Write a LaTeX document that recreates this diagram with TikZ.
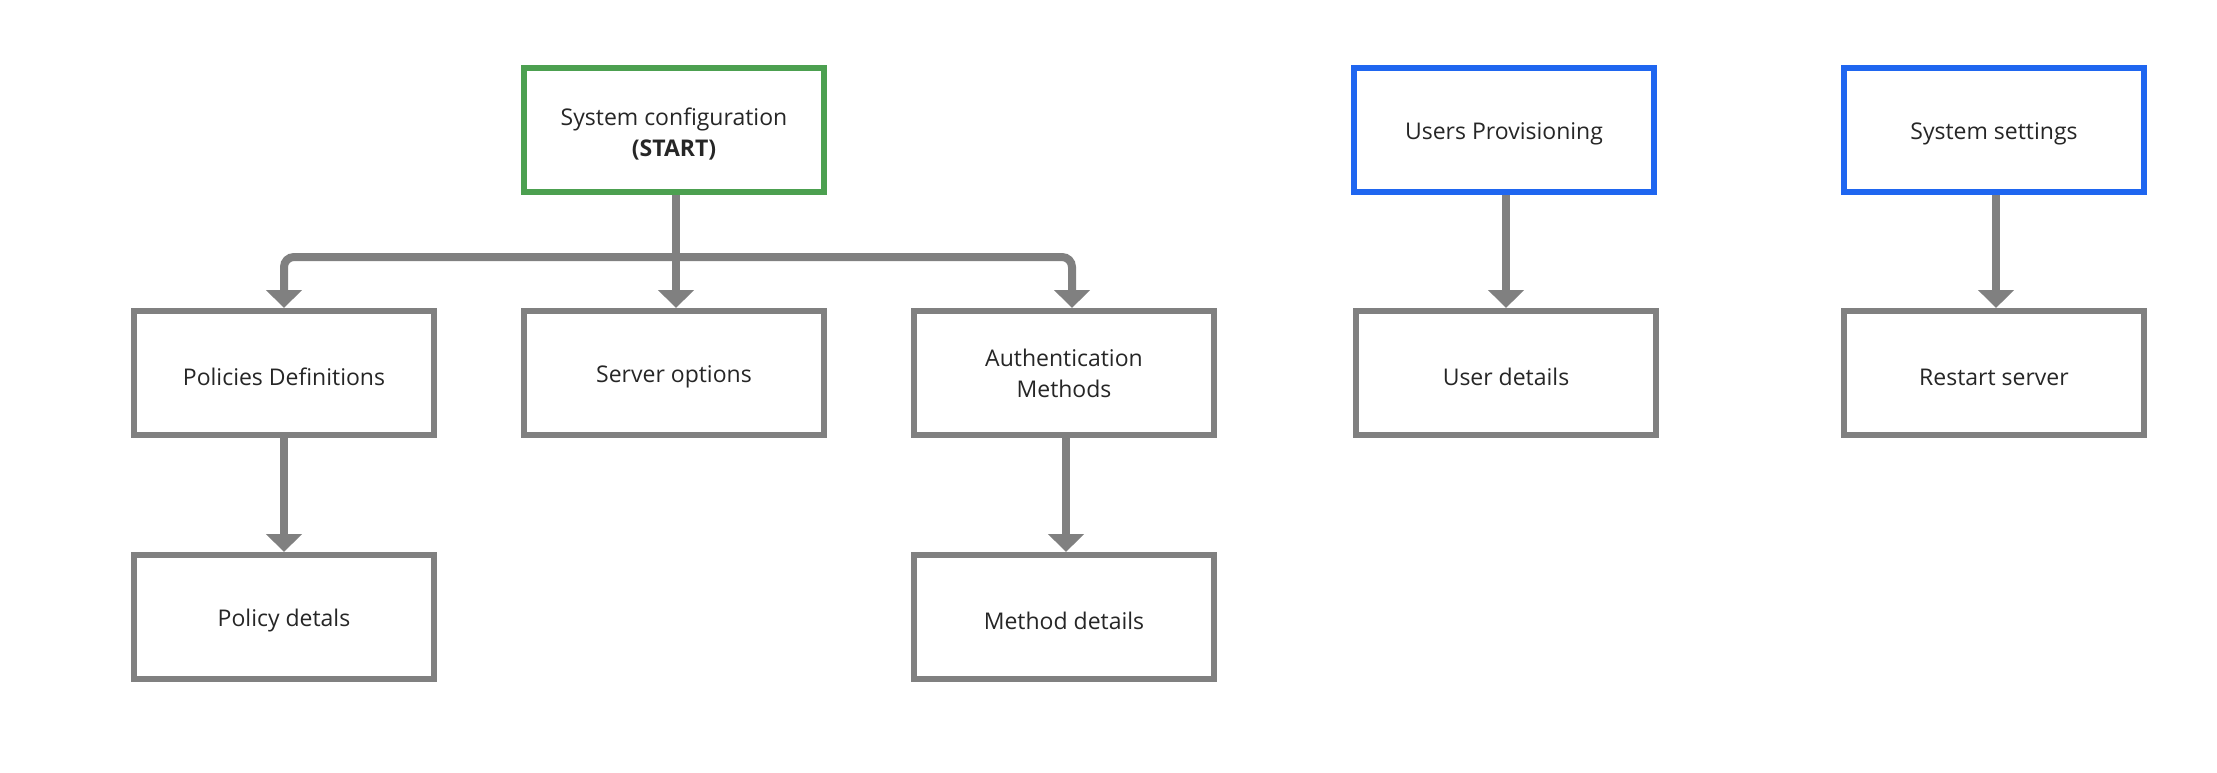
\documentclass[tikz,border=0pt]{standalone}
\usepackage{fontspec}
\setmainfont{Open Sans}
\usetikzlibrary{arrows.meta,calc}
\definecolor{boxgray}{RGB}{128,128,128}
\definecolor{startgreen}{RGB}{76,160,80}
\definecolor{ibmblue}{RGB}{31,102,240}
\definecolor{txt}{RGB}{38,38,38}
\newcommand{\lowr}[2][4pt]{\raisebox{-#1}[\height][\depth]{#2}}
\begin{document}
\begin{tikzpicture}[x=1pt,y=-1pt,
  box/.style={draw=boxgray, line width=6pt, minimum width=300pt, minimum height=124pt,
    inner sep=0pt, align=center, text=txt, font=\fontsize{23}{31}\selectfont},
  startbox/.style={box, draw=startgreen},
  bluebox/.style={box, draw=ibmblue},
  conn/.style={draw=boxgray, line width=8pt, -{Triangle[width=35pt,length=18pt]}}]
\fill[white] (0,0) rectangle (2217,773);
\useasboundingbox (0,0) rectangle (2217,773);
% top row
\node[startbox] (sc) at (674,130) {\lowr[5pt]{\begin{tabular}{@{}c@{}}System configuration\\\textbf{(START)}\end{tabular}}};
\node[bluebox] (up) at (1504,130) {\lowr{Users Provisioning}};
\node[bluebox] (ss) at (1994,130) {\lowr{System settings}};
% middle row
\node[box] (pd) at (284,373) {\lowr{Policies Definitions}};
\node[box] (so) at (674,373) {\lowr{Server options}};
\node[box] (am) at (1064,373) {\lowr[3pt]{\begin{tabular}{@{}c@{}}Authentication\\Methods\end{tabular}}};
\node[box] (ud) at (1506,373) {\lowr{User details}};
\node[box] (rs) at (1994,373) {\lowr{Restart server}};
% bottom row
\node[box] (pol) at (284,617) {\lowr{Policy detals}};
\node[box] (md) at (1064,617) {\lowr{Method details}};
% connectors
\coordinate (bus) at ($(sc.south)+(2,62)$);
\coordinate (amin) at ($(am.north)+(8,0)$);
\coordinate (scout) at ($(sc.south)+(2,0)$);
\coordinate (soin) at ($(so.north)+(2,0)$);
\draw[conn] (scout) -- (soin);
\draw[conn, rounded corners=10pt] (bus) -| (pd.north);
\draw[conn, rounded corners=10pt] (bus) -| (amin);
\draw[conn] (pd.south) -- (pol.north);
\coordinate (amout) at ($(am.south)+(2,0)$);
\coordinate (mdin) at ($(md.north)+(2,0)$);
\draw[conn] (amout) -- (mdin);
\coordinate (upout) at ($(up.south)+(2,0)$);
\coordinate (udin) at ($(ud.north)+(0,0)$);
\draw[conn] (upout) -- (udin);
\coordinate (ssout) at ($(ss.south)+(2,0)$);
\coordinate (rsin) at ($(rs.north)+(2,0)$);
\draw[conn] (ssout) -- (rsin);
\end{tikzpicture}
\end{document}
